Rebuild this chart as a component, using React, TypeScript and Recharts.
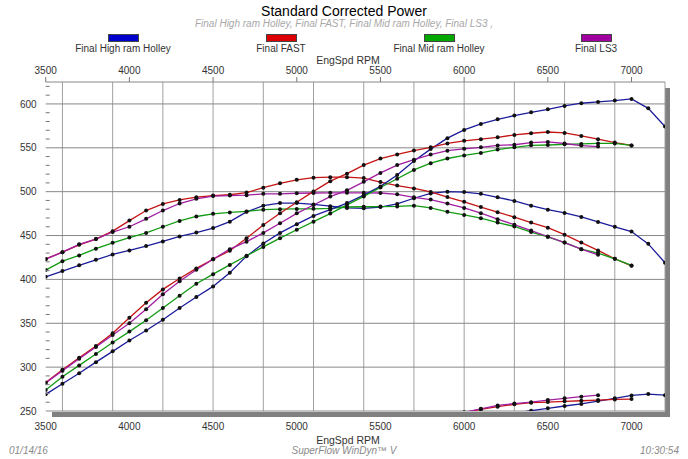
import { LineChart, Line, XAxis, YAxis, CartesianGrid } from "recharts";

// engine speed, every 100 rpm
const rpm = [
  3500, 3600, 3700, 3800, 3900, 4000, 4100, 4200, 4300, 4400, 4500, 4600, 4700,
  4800, 4900, 5000, 5100, 5200, 5300, 5400, 5500, 5600, 5700, 5800, 5900, 6000,
  6100, 6200, 6300, 6400, 6500, 6600, 6700, 6800, 6900, 7000, 7100, 7200,
];

const xTicks = [3500, 4000, 4500, 5000, 5500, 6000, 6500, 7000];
const yTicks = [
  250, 260, 270, 280, 290, 300, 310, 320, 330, 340, 350, 360, 370, 380, 390, 400,
  410, 420, 430, 440, 450, 460, 470, 480, 490, 500, 510, 520, 530, 540, 550, 560,
  570, 580, 590, 600, 610, 620,
];
const yGrid = [250, 300, 350, 400, 450, 500, 550, 600, 625];

// torque curves (lb-ft)
const hiTorque = [
  403, 409.5, 416, 422.3, 428.4, 433, 438, 443.3, 449, 453.4, 458.5, 465.8, 477,
  484, 487, 487, 485.5, 483.5, 481.5, 481, 482.5, 486, 492.5, 498, 500, 499.5,
  497.5, 493.6, 489.4, 484, 479.5, 475.8, 471.2, 465.5, 460, 454.5, 440.5, 419,
];
const fastTorque = [
  423.3, 431, 439.4, 446, 455, 467, 478.5, 486, 490.6, 493.7, 495.5, 496.5, 499,
  504.5, 509.5, 513.5, 516, 516.5, 516.5, 515.5, 511, 507, 503.7, 499.7, 493.8,
  488.5, 482.5, 476.6, 470.9, 464.8, 459, 451, 442, 433, 423.5, 415.5,
];
const midTorque = [
  410.6, 420.8, 427.3, 435, 441.7, 447.7, 453, 460, 466.7, 471.7, 474.8, 476.3,
  477.5, 479.5, 480, 480.3, 480.5, 481, 482.5, 482.8, 483, 483.2, 484, 481.5, 477,
  473.5, 469.8, 464.8, 460.3, 454, 448.4, 442, 434.5, 430, 423.5, 415.9,
];
const ls3Torque = [
  423, 431, 440, 446, 454, 460, 469, 478.5, 486.5, 491.8, 495, 495.5, 496, 497.5,
  497.5, 498.2, 498.5, 498.7, 498.7, 498.7, 498.5, 497, 493.5, 491, 486.5, 481.5,
  475.5, 468.6, 462.4, 455.7, 448.9, 442, 434.5, 428,
];

// power curves (hp)
const hiPower = [
  269, 281, 293, 305.7, 318, 330.3, 341.7, 354, 367.4, 380, 392, 407.7, 426.5,
  441, 453, 463, 472.3, 479.5, 487, 496, 506, 519, 535, 548.5, 561, 570.4, 577.2,
  582.5, 586.7, 590.5, 593.9, 597.7, 600.8, 602.3, 603.8, 605.7, 595, 574.2,
];
const fastPower = [
  282.6, 297, 310.6, 324, 338.6, 356.4, 373.5, 388.6, 401, 412.5, 423, 432.7, 447,
  462, 475.3, 488, 500.3, 512, 520.5, 530.3, 537.7, 542.5, 546.8, 550.5, 555, 558,
  559.8, 562, 564.7, 566.6, 568, 567, 563.5, 559.8, 556, 552.7,
];
const midPower = [
  274, 289, 302, 315, 328, 340.5, 353.4, 367.4, 381.4, 395, 406, 416.5, 427, 437,
  447, 456.6, 465.8, 475, 485, 494.6, 504.8, 514.7, 524.8, 532.5, 537.8, 541.3,
  544.2, 548, 550.6, 552.8, 553.2, 554, 554.4, 555, 555, 552.7,
];
const ls3Power = [
  282, 296, 309.5, 323, 336.7, 350, 366, 383, 398, 411, 423, 434.5, 443, 453, 464,
  475.3, 484.8, 494.4, 501.5, 511.2, 521.4, 530.3, 536.5, 542.3, 546.7, 548.8,
  550.5, 552.7, 553.5, 556, 556.7, 554.9, 552.5, 551.4,
];

// low traces along the bottom edge, each with its first rpm
const hiAuxStart = 6300;
const hiAux = [247.5, 250.3, 253, 255.7, 258, 261.3, 264.4, 267.8, 269.3, 268];
const fastAuxStart = 6000;
const fastAux = [248, 251.9, 254.9, 257.6, 259.5, 260.2, 261, 261.7, 262.5, 263.2, 263.6];
const ls3AuxStart = 6000;
const ls3Aux = [248.5, 252.5, 256.3, 258.5, 260, 262.5, 264.4, 266.3, 268];

const series = [
  { name: "Final High ram Holley", line: "#1c1c9a", box: "#0000cc", torque: hiTorque, power: hiPower, aux: hiAux, auxStart: hiAuxStart },
  { name: "Final FAST", line: "#c41414", box: "#dd0000", torque: fastTorque, power: fastPower, aux: fastAux, auxStart: fastAuxStart },
  { name: "Final Mid ram Holley", line: "#129a12", box: "#00a800", torque: midTorque, power: midPower, aux: [] as number[], auxStart: 0 },
  { name: "Final LS3", line: "#a01ea0", box: "#a000a0", torque: ls3Torque, power: ls3Power, aux: ls3Aux, auxStart: ls3AuxStart },
];

const data = rpm.map((r, i) => {
  const row: Record<string, number | null> = { rpm: r };
  series.forEach((s, k) => {
    row[`t${k}`] = s.torque[i] ?? null;
    row[`p${k}`] = s.power[i] ?? null;
    const j = (r - s.auxStart) / 100;
    row[`a${k}`] = j >= 0 && j < s.aux.length ? s.aux[j] : null;
  });
  return row;
});

const FONT = "'Liberation Sans', Arial, sans-serif";

const YTick = (props: any) => {
  const { x, y, payload } = props;
  const v = payload.value;
  if (v % 50 === 0) {
    return (
      <text x={x - 9} y={y} dy={3.6} textAnchor="end" fontSize={10} fill="#333" fontFamily={FONT}>
        {v}
      </text>
    );
  }
  return <line x1={x} x2={x + 4} y1={y} y2={y} stroke="#777" />;
};

const dot = { r: 2, fill: "#111", stroke: "#111", strokeWidth: 0 };

export default function App() {
  const centers = [123, 281, 439, 596];
  return (
    <div style={{ position: "absolute", left: 0, top: 0, width: 688, height: 459, background: "#fff", fontFamily: FONT }}>
      <div style={{ position: "absolute", left: 0, width: 688, top: 3, textAlign: "center", fontSize: 14, lineHeight: "16px", color: "#000" }}>
        Standard Corrected Power
      </div>
      <div style={{ position: "absolute", left: 0, width: 688, top: 18, textAlign: "center", fontSize: 10, lineHeight: "12px", color: "#a8a8a8", fontStyle: "italic" }}>
        Final High ram Holley, Final FAST, Final Mid ram Holley, Final LS3 ,
      </div>
      {series.map((s, k) => (
        <div key={s.name}>
          <div style={{ position: "absolute", left: centers[k] - 15, top: 34, width: 29, height: 6, background: s.box, border: "1px solid #444" }} />
          <div style={{ position: "absolute", left: centers[k] - 80, width: 160, top: 43, textAlign: "center", fontSize: 10, lineHeight: "12px", color: "#333" }}>
            {s.name}
          </div>
        </div>
      ))}
      <div style={{ position: "absolute", left: 4, width: 688, top: 54, textAlign: "center", fontSize: 10.5, lineHeight: "12px", color: "#333" }}>
        EngSpd RPM
      </div>
      <div style={{ position: "absolute", left: 4, width: 688, top: 434, textAlign: "center", fontSize: 10.5, lineHeight: "12px", color: "#333" }}>
        EngSpd RPM
      </div>
      {/* plot shadow */}
      <div style={{ position: "absolute", left: 52, top: 412, width: 618, height: 5, background: "#808080" }} />
      <div style={{ position: "absolute", left: 665, top: 88, width: 5, height: 329, background: "#808080" }} />
      <div style={{ position: "absolute", left: 0, top: 0 }}>
        <LineChart width={688} height={459} data={data} margin={{ top: 62, right: 23, bottom: 28, left: 5.7 }}>
          <CartesianGrid horizontal={false} verticalValues={rpm} stroke="#a0a0a0" />
          <CartesianGrid vertical={false} horizontalValues={yGrid} stroke="#888" />
          <XAxis
            dataKey="rpm"
            type="number"
            domain={[3500, 7200]}
            ticks={xTicks}
            allowDataOverflow
            axisLine={false}
            tickLine={false}
            tickSize={0}
            tickMargin={12}
            height={20}
            tick={{ fontSize: 10, fill: "#333", fontFamily: FONT }}
          />
          <XAxis
            xAxisId="top"
            orientation="top"
            dataKey="rpm"
            type="number"
            domain={[3500, 7200]}
            ticks={xTicks}
            allowDataOverflow
            axisLine={false}
            tickLine={{ stroke: "#777" }}
            tickSize={5}
            tickMargin={3}
            height={20}
            tick={{ fontSize: 10, fill: "#333", fontFamily: FONT }}
          />
          <YAxis
            type="number"
            domain={[250, 625]}
            ticks={yTicks}
            allowDataOverflow
            axisLine={false}
            tickLine={false}
            tickSize={0}
            tickMargin={0}
            width={40}
            interval={0}
            tick={<YTick />}
          />
          {series.map((s, k) => (
            <Line key={`a${k}`} dataKey={`a${k}`} type="linear" stroke={s.line} strokeWidth={1.3} dot={dot} isAnimationActive={false} />
          ))}
          {series.map((s, k) => (
            <Line key={`t${k}`} dataKey={`t${k}`} type="linear" stroke={s.line} strokeWidth={1.3} dot={dot} isAnimationActive={false} />
          ))}
          {series.map((s, k) => (
            <Line key={`p${k}`} dataKey={`p${k}`} type="linear" stroke={s.line} strokeWidth={1.3} dot={dot} isAnimationActive={false} />
          ))}
        </LineChart>
      </div>
      <div style={{ position: "absolute", left: 9, top: 445, fontSize: 10, lineHeight: "12px", color: "#8a8a8a", fontStyle: "italic" }}>
        01/14/16
      </div>
      <div style={{ position: "absolute", left: 0, width: 688, top: 445, textAlign: "center", fontSize: 10, lineHeight: "12px", color: "#8a8a8a", fontStyle: "italic" }}>
        SuperFlow WinDyn™ V
      </div>
      <div style={{ position: "absolute", right: 9, top: 445, fontSize: 10, lineHeight: "12px", color: "#8a8a8a", fontStyle: "italic" }}>
        10:30:54
      </div>
    </div>
  );
}
